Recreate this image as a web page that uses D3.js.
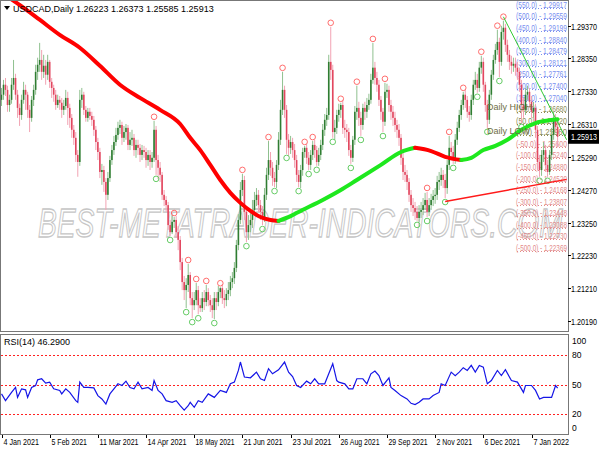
<!DOCTYPE html>
<html><head><meta charset="utf-8">
<script src="https://cdn.jsdelivr.net/npm/d3@7"></script>
<style>
body{margin:0;background:#fff}
svg{display:block}
text{font-family:"Liberation Sans",Arial,sans-serif}
</style></head>
<body><svg id="c" width="600" height="450"></svg>
<script>
// ---------------- DATA ----------------
const symbolTitle = "USDCAD,Daily 1.26223 1.26373 1.25585 1.25913";
const firstOpen = 1.2706;
const closes = [
1.2722,1.2753,1.2737,1.2690,1.2706,1.2753,1.2774,1.2722,1.2681,1.2659,
1.2706,1.2737,1.2722,1.2675,1.2650,1.2706,1.2737,1.2793,1.2815,1.2830,
1.2793,1.2812,1.2784,1.2824,1.2762,1.2743,1.2722,1.2690,1.2706,1.2697,
1.2675,1.2687,1.2712,1.2681,1.2650,1.2613,1.2588,1.2535,1.2513,1.2706,
1.2722,1.2675,1.2650,1.2669,1.2656,1.2644,1.2613,1.2575,1.2544,1.2482,
1.2488,1.2451,1.2411,1.2463,1.2519,1.2550,1.2575,1.2597,1.2619,1.2628,
1.2588,1.2606,1.2619,1.2566,1.2582,1.2588,1.2550,1.2566,1.2557,1.2535,
1.2550,1.2544,1.2519,1.2535,1.2513,1.2526,1.2613,1.2519,1.2495,1.2473,
1.2411,1.2395,1.2379,1.2317,1.2295,1.2327,1.2333,1.2295,1.2271,1.2202,
1.2140,1.2115,1.2131,1.2162,1.2090,1.2068,1.2084,1.2115,1.2068,1.2059,
1.2090,1.2078,1.2109,1.2084,1.2068,1.2053,1.2090,1.2078,1.2109,1.2121,
1.2090,1.2084,1.2103,1.2115,1.2140,1.2152,1.2184,1.2255,1.2333,1.2426,
1.2457,1.2358,1.2295,1.2317,1.2333,1.2364,1.2395,1.2411,1.2379,1.2358,
1.2339,1.2411,1.2473,1.2519,1.2495,1.2463,1.2451,1.2504,1.2582,1.2675,
1.2737,1.2675,1.2582,1.2557,1.2575,1.2550,1.2519,1.2473,1.2451,1.2488,
1.2544,1.2557,1.2526,1.2504,1.2535,1.2566,1.2550,1.2513,1.2535,1.2566,
1.2613,1.2644,1.2659,1.2824,1.2799,1.2606,1.2619,1.2659,1.2675,1.2690,
1.2619,1.2613,1.2606,1.2550,1.2526,1.2582,1.2669,1.2681,1.2650,1.2628,
1.2681,1.2669,1.2690,1.2706,1.2768,1.2806,1.2774,1.2753,1.2706,1.2669,
1.2638,1.2731,1.2737,1.2690,1.2669,1.2650,1.2628,1.2613,1.2588,1.2526,
1.2482,1.2473,1.2451,1.2411,1.2379,1.2370,1.2358,1.2339,1.2358,1.2364,
1.2379,1.2395,1.2358,1.2379,1.2395,1.2407,1.2411,1.2451,1.2457,1.2473,
1.2457,1.2432,1.2504,1.2557,1.2544,1.2519,1.2582,1.2619,1.2659,1.2690,
1.2722,1.2706,1.2669,1.2659,1.2706,1.2753,1.2768,1.2743,1.2806,1.2824,
1.2753,1.2690,1.2644,1.2722,1.2784,1.2830,1.2861,1.2886,1.2824,1.2917,
1.2930,1.2877,1.2846,1.2824,1.2812,1.2818,1.2806,1.2793,1.2753,1.2690,
1.2675,1.2722,1.2731,1.2700,1.2669,1.2681,1.2613,1.2513,1.2488,1.2535,
1.2550,1.2504,1.2482,1.2535,1.2597,1.2650,1.26223,1.25913];
const highs = [
1.2743,1.2768,1.2774,1.2750,1.2722,1.2774,1.2830,1.2787,1.2737,1.2694,
1.2722,1.2762,1.2753,1.2731,1.2690,1.2718,1.2753,1.2815,1.2837,1.2883,
1.2861,1.2846,1.2830,1.2846,1.2830,1.2774,1.2753,1.2737,1.2722,1.2718,
1.2712,1.2706,1.2737,1.2731,1.2694,1.2662,1.2628,1.2606,1.2550,1.2737,
1.2743,1.2731,1.2687,1.2681,1.2681,1.2669,1.2656,1.2625,1.2588,1.2557,
1.2507,1.2501,1.2463,1.2482,1.2532,1.2566,1.2594,1.2619,1.2638,1.2644,
1.2638,1.2625,1.2631,1.2628,1.2606,1.2613,1.2600,1.2582,1.2582,1.2569,
1.2566,1.2563,1.2557,1.2550,1.2550,1.2544,1.2641,1.2625,1.2535,1.2513,
1.2482,1.2426,1.2407,1.2389,1.2333,1.2348,1.2342,1.2345,1.2314,1.2283,
1.2215,1.2159,1.2152,1.2196,1.2171,1.2109,1.2109,1.2137,1.2128,1.2090,
1.2109,1.2115,1.2131,1.2121,1.2100,1.2090,1.2109,1.2109,1.2128,1.2124,
1.2134,1.2115,1.2121,1.2140,1.2159,1.2171,1.2202,1.2271,1.2351,1.2451,
1.2476,1.2470,1.2376,1.2348,1.2358,1.2395,1.2420,1.2432,1.2426,1.2395,
1.2376,1.2432,1.2495,1.2578,1.2544,1.2513,1.2482,1.2519,1.2606,1.2706,
1.2793,1.2750,1.2690,1.2600,1.2594,1.2588,1.2569,1.2535,1.2488,1.2504,
1.2557,1.2563,1.2569,1.2544,1.2550,1.2578,1.2582,1.2563,1.2557,1.2582,
1.2631,1.2662,1.2681,1.2846,1.2933,1.2815,1.2644,1.2675,1.2694,1.2697,
1.2706,1.2644,1.2631,1.2619,1.2566,1.2594,1.2687,1.2750,1.2700,1.2669,
1.2694,1.2700,1.2712,1.2725,1.2787,1.2883,1.2824,1.2793,1.2768,1.2718,
1.2681,1.2759,1.2756,1.2750,1.2706,1.2687,1.2669,1.2644,1.2631,1.2600,
1.2544,1.2504,1.2488,1.2463,1.2426,1.2401,1.2389,1.2376,1.2379,1.2389,
1.2401,1.2417,1.2420,1.2401,1.2414,1.2426,1.2432,1.2470,1.2482,1.2495,
1.2488,1.2476,1.2519,1.2594,1.2575,1.2563,1.2600,1.2638,1.2675,1.2706,
1.2731,1.2737,1.2718,1.2687,1.2722,1.2768,1.2793,1.2787,1.2824,1.2843,
1.2837,1.2762,1.2706,1.2737,1.2799,1.2846,1.2880,1.2924,1.2899,1.2936,
1.2952,1.2942,1.2893,1.2861,1.2843,1.2837,1.2837,1.2824,1.2806,1.2768,
1.2712,1.2743,1.2750,1.2743,1.2718,1.2700,1.2694,1.2625,1.2535,1.2550,
1.2575,1.2566,1.2519,1.2550,1.2619,1.2669,1.2662,1.26373];
const lows = [
1.2687,1.2706,1.2718,1.2669,1.2669,1.2694,1.2737,1.2706,1.2650,1.2625,
1.2644,1.2694,1.2675,1.2650,1.2606,1.2638,1.2687,1.2722,1.2768,1.2793,
1.2768,1.2774,1.2753,1.2768,1.2743,1.2712,1.2700,1.2675,1.2681,1.2675,
1.2650,1.2659,1.2675,1.2628,1.2619,1.2588,1.2566,1.2513,1.2467,1.2501,
1.2681,1.2659,1.2638,1.2638,1.2644,1.2625,1.2594,1.2550,1.2519,1.2463,
1.2442,1.2420,1.2364,1.2395,1.2451,1.2504,1.2535,1.2563,1.2582,1.2600,
1.2566,1.2575,1.2582,1.2550,1.2550,1.2563,1.2532,1.2526,1.2535,1.2513,
1.2519,1.2526,1.2495,1.2501,1.2488,1.2495,1.2513,1.2473,1.2460,1.2451,
1.2395,1.2376,1.2358,1.2302,1.2283,1.2289,1.2308,1.2277,1.2239,1.2177,
1.2115,1.2084,1.2059,1.2109,1.2068,1.2028,1.2053,1.2068,1.2040,1.2047,
1.2047,1.2053,1.2065,1.2065,1.2047,1.2028,1.2025,1.2053,1.2065,1.2090,
1.2072,1.2059,1.2065,1.2084,1.2096,1.2121,1.2134,1.2171,1.2239,1.2320,
1.2407,1.2333,1.2264,1.2271,1.2295,1.2308,1.2348,1.2376,1.2358,1.2333,
1.2317,1.2327,1.2395,1.2457,1.2470,1.2439,1.2435,1.2432,1.2488,1.2566,
1.2659,1.2650,1.2538,1.2532,1.2538,1.2526,1.2495,1.2451,1.2435,1.2432,
1.2470,1.2526,1.2507,1.2488,1.2488,1.2519,1.2526,1.2501,1.2501,1.2519,
1.2550,1.2594,1.2625,1.2644,1.2768,1.2588,1.2582,1.2600,1.2638,1.2650,
1.2600,1.2588,1.2575,1.2532,1.2507,1.2513,1.2566,1.2644,1.2625,1.2594,
1.2613,1.2644,1.2650,1.2675,1.2694,1.2756,1.2753,1.2731,1.2687,1.2644,
1.2606,1.2625,1.2712,1.2669,1.2644,1.2625,1.2606,1.2588,1.2563,1.2504,
1.2457,1.2451,1.2426,1.2389,1.2358,1.2345,1.2333,1.2330,1.2327,1.2339,
1.2348,1.2364,1.2342,1.2345,1.2364,1.2376,1.2383,1.2395,1.2426,1.2439,
1.2432,1.2401,1.2414,1.2488,1.2519,1.2507,1.2507,1.2566,1.2606,1.2644,
1.2675,1.2681,1.2650,1.2638,1.2644,1.2690,1.2737,1.2728,1.2731,1.2787,
1.2731,1.2669,1.2619,1.2631,1.2706,1.2768,1.2818,1.2846,1.2777,1.2812,
1.2893,1.2855,1.2824,1.2799,1.2787,1.2793,1.2781,1.2768,1.2731,1.2634,
1.2650,1.2659,1.2706,1.2681,1.2650,1.2650,1.2588,1.2488,1.2467,1.2470,
1.2513,1.2482,1.2467,1.2473,1.2519,1.2582,1.2606,1.25585];

const highMarkIdx = [76,86,93,97,102,109,120,133,140,151,155,164,169,177,185,191,212,223,230,239,247,250];
const lowMarkIdx  = [77,84,92,95,98,106,122,130,136,142,148,153,157,165,174,179,190,207,212,221,225,237,242,248,259,268,272];

const maIdx = [0,9,19,29,39,49,59,69,79,89,94,99,104,109,114,119,124,129,134,138,144,149,160,169,177,189,199,206,214,221,229,234,240,246,252,259,266,275,277];
const maVal = [1.3039,1.3001,1.2955,1.2908,1.2868,1.2812,1.2753,1.2712,1.2675,1.2631,1.2588,1.2550,1.2504,1.2457,1.2417,1.2386,1.2361,1.2342,1.2333,1.2330,1.2345,1.2361,1.2395,1.2426,1.2457,1.2504,1.2544,1.2557,1.2547,1.2529,1.2519,1.2526,1.2550,1.2563,1.2582,1.2613,1.2634,1.2644,1.2646];

const greenTrend = [[250,1.2964],[281.5,1.2582]];
const redTrend   = [[221,1.2390],[281.5,1.2459]];

const rsiIdx = [0,2,5,7,8,10,12,13,15,17,18,20,22,24,26,29,30,32,34,37,38,39,41,43,46,48,50,52,54,56,58,60,62,64,66,68,70,73,75,76,78,80,82,85,87,89,91,93,94,96,98,100,103,106,109,112,114,116,118,119,121,124,127,129,131,133,135,138,141,143,145,147,149,152,154,156,158,161,163,165,167,168,171,173,175,177,180,182,184,186,188,190,193,194,196,199,202,204,206,208,210,213,215,218,219,221,224,226,228,230,232,234,236,238,240,242,244,247,249,251,254,257,260,261,264,266,268,270,272,274,276,277];
const rsiVal = [40.5,33.7,42,47,37,45.6,44.6,37,47,49,54.7,55.8,51.4,52.4,45.6,44,40.5,45.6,42,33.7,32,52.4,47,47,46.6,38.8,35.4,30.3,40.5,45.6,50.7,49,53.4,47,45.6,52.4,45.6,47,44,54,44,40.5,33.7,32,33.7,28.6,24.2,28.6,32,27,33.7,32,40.5,37,44,42,50.7,52.4,64.2,72.7,57.5,56.8,62.5,55.8,54,66,60.8,64.9,72.7,62.5,58,49,47,53.4,50.7,55.8,50.7,50.7,60.8,71,54,52.4,50.7,45.6,45.6,55.8,55.8,50.7,60.8,63.6,59,49,56.8,47,44,38.8,35.4,31,29.7,32,35.4,35.4,38.8,42,50.7,49,62.5,59,62.5,67,64.2,69.3,62.5,69.3,67.6,50.7,54,64.2,59,64.9,54,52.4,42,49,49,44,35.4,37,37,37,49,46.29];
const rsiLabel = "RSI(14) 46.2900";
const rsiLevels = [80,50,20];
const rsiTicks = [100,80,50,20,0];

const priceTicks = [1.29370,1.28350,1.27330,1.26310,1.25290,1.24270,1.23250,1.22230,1.21210,1.20190];
const lastPrice = 1.25913;

const dateIdx = [0,24,48,72,96,120,144,168,192,216,240,264];
const dateLabels = ["4 Jan 2021","5 Feb 2021","11 Mar 2021","14 Apr 2021","18 May 2021","21 Jun 2021","23 Jul 2021","26 Aug 2021","29 Sep 2021","2 Nov 2021","6 Dec 2021","7 Jan 2022"];

const levelNames  = ["550.0","500.0","450.0","400.0","350.0","300.0","250.0","200.0","150.0","100.0","50.0","0.0","-50.0","-100.0","-150.0","-200.0","-250.0","-300.0","-350.0","-400.0","-450.0","-500.0"];
const levelPrices = [1.29917,1.29559,1.29199,1.28840,1.28479,1.28121,1.27761,1.27400,1.27040,1.26680,1.26320,1.25960,1.25600,1.25240,1.24880,1.24520,1.24168,1.23807,1.23448,1.23088,1.22730,1.22369];
const dailyTags = [["Daily HIGH",1.2683],["Daily LOW",1.2609]];
const watermark = "BEST-METATRADER-INDICATORS.COM";

// ---------------- DRAW ----------------
const svg = d3.select("#c");
const axisX = 568;
const x = d3.scaleLinear().domain([0,277]).range([1.5,557.6]);
const y = d3.scaleLinear().domain([1.20190,1.29370]).range([321,25.5]);
const yr = d3.scaleLinear().domain([0,100]).range([434,335]);

svg.append("rect").attr("width",600).attr("height",450).attr("fill","#fff");
const defs = svg.append("defs");
defs.append("clipPath").attr("id","mainClip").append("rect").attr("x",1).attr("y",1).attr("width",axisX-1).attr("height",330);
defs.append("clipPath").attr("id","rsiClip").append("rect").attr("x",1).attr("y",335).attr("width",axisX-1).attr("height",99);

const main = svg.append("g").attr("clip-path","url(#mainClip)");

// watermark (scaled to fit its span)
const wmG = main.append("g");
const wm = wmG.append("text").attr("x",0).attr("y",0).text(watermark)
  .attr("font-family","DejaVu Sans").attr("font-style","italic").attr("font-size",40)
  .attr("fill","none").attr("stroke","#c6c6c6").attr("stroke-width",1.3);
const wmW = wm.node().getComputedTextLength();
wmG.attr("transform",`translate(38,237) scale(${525/wmW},1)`);

// level lines and labels
const levelColor = (v)=> v>100 ? "#7a8ff0" : (v>=0 ? "#8c8c55" : "#e38a8a");
const levG = main.append("g");
levelNames.forEach((n,k)=>{
  const v = parseFloat(n), yy = Math.round(y(levelPrices[k]))+0.5;
  levG.append("line").attr("x1",517).attr("x2",axisX).attr("y1",yy).attr("y2",yy)
    .attr("stroke",levelColor(v)).attr("stroke-dasharray","1,2").attr("stroke-width",1);
  levG.append("text").attr("x",516).attr("y",yy-1).attr("font-size",8.5)
    .attr("textLength",51).attr("lengthAdjust","spacingAndGlyphs")
    .attr("fill",levelColor(v)).text("("+n+") - "+levelPrices[k].toFixed(5));
});

// candles
const opens = closes.map((c,i)=> i===0 ? firstOpen : closes[i-1]);
const cg = main.append("g");
closes.forEach((c,i)=>{
  const o = opens[i], up = c>=o;
  const xx = x(i);
  cg.append("line").attr("x1",xx).attr("x2",xx).attr("y1",y(highs[i])).attr("y2",y(lows[i]))
    .attr("stroke", up ? "#8fc08f" : "#f2a3b3").attr("stroke-width",1);
  const y1 = y(Math.max(o,c)), y2 = y(Math.min(o,c));
  cg.append("rect").attr("x",xx-0.8).attr("width",1.6).attr("y",y1).attr("height",Math.max(1,y2-y1))
    .attr("fill", up ? "#2f7d32" : "#e2475f");
});

// markers
highMarkIdx.forEach(i=>{
  main.append("circle").attr("cx",x(i)).attr("cy",y(highs[i])-4).attr("r",2.8)
    .attr("fill","none").attr("stroke","#ff6d6d").attr("stroke-width",1);
});
lowMarkIdx.forEach(i=>{
  main.append("circle").attr("cx",x(i)).attr("cy",y(lows[i])+4).attr("r",2.8)
    .attr("fill","none").attr("stroke","#66cc66").attr("stroke-width",1);
});

// trend lines
const tl = d3.line().x(d=>x(d[0])).y(d=>y(d[1]));
main.append("path").attr("d",tl(redTrend)).attr("stroke","#ff1a1a").attr("stroke-width",1.5).attr("fill","none");
main.append("path").attr("d",tl(greenTrend)).attr("stroke","#33cc33").attr("stroke-width",1).attr("fill","none");

// moving average coloured by slope
const runs=[]; let cur=[0]; let dir=null;
for(let k=1;k<maIdx.length;k++){
  const d = maVal[k]>=maVal[k-1] ? "up":"down";
  if(dir===null) dir=d;
  if(d!==dir){ runs.push({dir,ks:cur}); cur=[k-1]; dir=d; }
  cur.push(k);
}
runs.push({dir,ks:cur});
const maLine = d3.line().x(k=>x(maIdx[k])).y(k=>y(maVal[k])).curve(d3.curveMonotoneX);
runs.forEach(r=>{
  main.append("path").attr("d",maLine(r.ks)).attr("fill","none")
    .attr("stroke", r.dir==="up" ? "#1ee81e" : "#ff0000").attr("stroke-width",4).attr("stroke-linecap","round");
});

// daily tags
dailyTags.forEach(t=>{
  main.append("text").attr("x",487).attr("y",y(t[1])+3).attr("font-size",9).attr("fill","#6e6e45").text(t[0]);
});

// title
svg.append("path").attr("d","M4,6 L10,6 L7,10 Z").attr("fill","#000");
svg.append("text").attr("x",13).attr("y",12).attr("font-size",9).attr("fill","#000").text(symbolTitle);

// frames
svg.append("rect").attr("x",0.5).attr("y",0.5).attr("width",axisX).attr("height",331).attr("fill","none").attr("stroke","#777");
svg.append("rect").attr("x",0.5).attr("y",334.5).attr("width",axisX).attr("height",100).attr("fill","none").attr("stroke","#777");

// price axis
priceTicks.forEach(p=>{
  const yy = Math.round(y(p))+0.5;
  svg.append("line").attr("x1",axisX).attr("x2",axisX+3).attr("y1",yy).attr("y2",yy).attr("stroke","#000");
  svg.append("text").attr("x",axisX+3).attr("y",yy+3.5).attr("font-size",8.2).attr("fill","#000")
    .attr("textLength",26).attr("lengthAdjust","spacingAndGlyphs").text(p.toFixed(5));
});
const ly = y(lastPrice);
svg.append("rect").attr("x",axisX).attr("y",ly-7).attr("width",31).attr("height",14).attr("fill","#000");
svg.append("text").attr("x",axisX+3).attr("y",ly+3.5).attr("font-size",8.2).attr("fill","#fff")
  .attr("textLength",26).attr("lengthAdjust","spacingAndGlyphs").text(lastPrice.toFixed(5));

// RSI panel
const rg = svg.append("g").attr("clip-path","url(#rsiClip)");
rsiLevels.forEach(v=>{
  rg.append("line").attr("x1",1).attr("x2",axisX).attr("y1",Math.round(yr(v))+0.5).attr("y2",Math.round(yr(v))+0.5)
    .attr("stroke","#ff2020").attr("stroke-dasharray","2,2").attr("stroke-width",1);
});
const n = Math.min(rsiIdx.length,rsiVal.length);
const rsiPts = d3.range(n).map(k=>[rsiIdx[k],rsiVal[k]]);
rg.append("path").attr("d",d3.line().x(d=>x(d[0])).y(d=>yr(d[1]))(rsiPts))
  .attr("fill","none").attr("stroke","#1515e6").attr("stroke-width",1.2);
svg.append("text").attr("x",4).attr("y",345).attr("font-size",9).attr("fill","#000").text(rsiLabel);
rsiTicks.forEach(v=>{
  const yy = Math.min(428, Math.max(341, yr(v)));
  svg.append("text").attr("x",axisX+4).attr("y",yy+3).attr("font-size",8.5).attr("fill","#000").text(v);
});

// date axis
dateIdx.forEach((i,k)=>{
  const xx = Math.round(x(i))+0.5;
  svg.append("line").attr("x1",xx).attr("x2",xx).attr("y1",435).attr("y2",438).attr("stroke","#000");
  svg.append("text").attr("x",xx+1).attr("y",445).attr("font-size",8.5).attr("fill","#000")
    .attr("textLength",dateLabels[k].length*3.55).attr("lengthAdjust","spacingAndGlyphs").text(dateLabels[k]);
});
</script>
</body></html>
